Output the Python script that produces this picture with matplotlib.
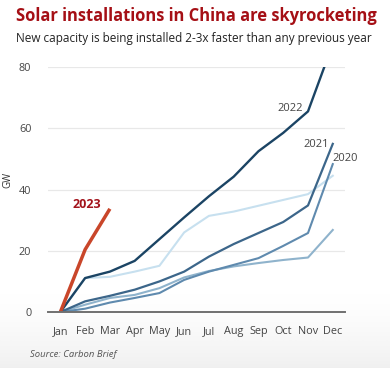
import matplotlib.pyplot as plt
import numpy as np

plt.rcParams['font.family'] = ['Open Sans', 'DejaVu Sans']

# Data (cumulative GW installed)
months = ["Jan", "Feb", "Mar", "Apr", "May", "Jun", "Jul", "Aug", "Sep", "Oct", "Nov", "Dec"]
y2018 = [0, 11.1, 11.5, 13.2, 15.1, 26.0, 31.4, 32.8, 34.7, 36.6, 38.5, 44.5]
y2019 = [0, 2.4, 4.6, 5.6, 7.8, 11.3, 13.4, 14.9, 16.0, 17.0, 17.8, 26.8]
y2020 = [0, 1.1, 3.1, 4.6, 6.2, 10.5, 13.2, 15.4, 17.6, 21.6, 25.8, 48.3]
y2021 = [0, 3.5, 5.3, 7.3, 10.0, 13.2, 18.1, 22.2, 25.8, 29.4, 34.8, 54.9]
y2022 = [0, 11.1, 13.2, 16.7, 23.8, 30.9, 37.8, 44.2, 52.5, 58.5, 65.5, 87.5]
y2023 = [0, 20.4, 33.7]

x = np.arange(len(months))

fig = plt.figure(figsize=(3.9, 3.68), dpi=100)

# faint grey shading towards the bottom, as in the screenshot
bg = fig.add_axes([0, 0, 1, 0.22], zorder=-10)
grad = np.linspace(0, 1, 100).reshape(-1, 1) ** 1.5
bg.imshow(grad, aspect='auto', cmap='Greys', vmin=0, vmax=8, origin='upper',
          extent=[0, 1, 0, 1])
bg.axis('off')

ax = fig.add_axes([0.123, 0.152, 0.762, 0.666])
ax.patch.set_alpha(0)

ax.plot(x, y2018, color='#c7e0ef', lw=1.5)
ax.plot(x, y2019, color='#8fb3cc', lw=1.5)
ax.plot(x, y2020, color='#5f8aae', lw=1.5)
ax.plot(x, y2021, color='#3c668a', lw=1.6)
ax.plot(x, y2022, color='#1b4464', lw=1.7)
ax.plot(x[:len(y2023)], y2023, color='#c9462a', lw=2.5, solid_capstyle='butt')

ax.set_xlim(-0.5, 11.5)
ax.set_ylim(0, 80)
ax.set_yticks([0, 20, 40, 60, 80])
ax.set_xticks(x)
ax.set_xticklabels(months)
ax.yaxis.grid(True, color='#e8e8e8', lw=0.9)
ax.set_axisbelow(True)
for s in ['top', 'right', 'left']:
    ax.spines[s].set_visible(False)
ax.spines['bottom'].set_color('#707070')
ax.spines['bottom'].set_linewidth(1.4)
ax.tick_params(length=0, labelsize=7.8, colors='#444444')
ax.tick_params(axis='x', pad=10)
ax.tick_params(axis='y', pad=12)
ax.set_ylabel('GW', fontsize=7, color='#333333')
ax.yaxis.set_label_coords(-0.115, 0.54)

# Series labels
ax.text(9.8, 66.5, '2022', fontsize=8, color='#444444', ha='right', va='center')
ax.text(10.35, 54.8, '2021', fontsize=8, color='#444444', ha='center', va='center')
ax.text(11.5, 50.0, '2020', fontsize=8, color='#444444', ha='center', va='center')
ax.text(1.07, 35.0, '2023', fontsize=9, color='#a3141c', ha='center', va='center',
        fontweight='bold')

fig.text(0.04, 0.957, 'Solar installations in China are skyrocketing', fontsize=11.9,
         fontweight='bold', color='#a50f15', ha='left', va='center')
fig.text(0.04, 0.896, 'New capacity is being installed 2-3x faster than any previous year',
         fontsize=8.5, color='#222222', ha='left', va='center')
fig.text(0.077, 0.037, 'Source: Carbon Brief', fontsize=6.8, style='italic',
         color='#555555', ha='left', va='center')

plt.savefig('out.png', dpi=100)
